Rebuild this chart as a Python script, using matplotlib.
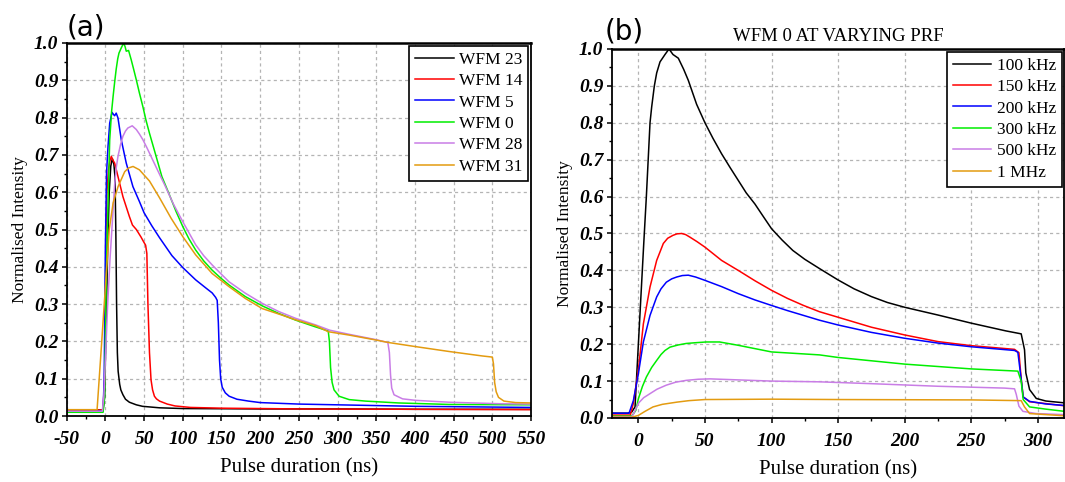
import matplotlib
matplotlib.use("Agg")
import matplotlib.pyplot as plt
from matplotlib.ticker import MultipleLocator

plt.rcParams["font.family"] = ["Liberation Serif", "DejaVu Serif"]
plt.rcParams["axes.unicode_minus"] = False

# ---- panel (a): different waveforms ----
wfm_labels = ["WFM 23", "WFM 14", "WFM 5", "WFM 0", "WFM 28", "WFM 31"]

wfm23_x = [-50, -3, -1, 1, 3, 5, 7, 9, 11, 12.5, 13.5, 14.5, 15.5, 16.5, 18.5, 20, 22.7, 26, 31, 40, 48, 70, 100, 200, 300, 400, 550]
wfm23_y = [0.016, 0.016, 0.05, 0.25, 0.45, 0.6, 0.67, 0.69, 0.675, 0.64, 0.5, 0.3, 0.17, 0.12, 0.085, 0.07, 0.057, 0.045, 0.037, 0.03, 0.026, 0.022, 0.02, 0.019, 0.019, 0.018, 0.018]

wfm14_x = [-50, -3, -1, 0, 1, 2, 4, 6, 7.7, 10, 12, 16.3, 22.7, 31, 35, 40, 46, 50, 52, 53.6, 55, 57, 59, 61, 63.4, 66, 70, 80, 90, 110, 150, 250, 400, 550]
wfm14_y = [0.016, 0.016, 0.1, 0.3, 0.5, 0.6, 0.66, 0.685, 0.696, 0.685, 0.678, 0.642, 0.588, 0.535, 0.512, 0.5, 0.48, 0.465, 0.458, 0.436, 0.30, 0.17, 0.097, 0.07, 0.053, 0.046, 0.04, 0.032, 0.027, 0.023, 0.021, 0.019, 0.018, 0.017]

wfm5_x = [-50, -3, -1.5, 0, 1.5, 3.4, 5.6, 8.6, 10.7, 12, 14, 16.3, 20.6, 27, 35.6, 44, 50, 60, 70, 86, 100, 116.7, 130, 138, 142.5, 144.5, 146, 147.5, 149, 151, 155, 160, 170, 185, 200, 250, 300, 400, 550]
wfm5_y = [0.013, 0.013, 0.1, 0.45, 0.65, 0.722, 0.785, 0.814, 0.808, 0.805, 0.812, 0.799, 0.74, 0.678, 0.615, 0.575, 0.545, 0.51, 0.478, 0.43, 0.398, 0.365, 0.343, 0.33, 0.318, 0.31, 0.25, 0.15, 0.1, 0.077, 0.062, 0.053, 0.045, 0.04, 0.036, 0.032, 0.03, 0.026, 0.023]

wfm0_x = [-50, -3, -1, 0, 1, 2.6, 5.6, 8, 10, 12, 14, 16, 17.6, 20.6, 23.6, 25.5, 27, 30, 33.4, 36.5, 40, 44, 48.4, 52.5, 57, 65.6, 73, 82, 91, 100, 108, 116.7, 127, 138, 149, 160, 181, 203, 224, 246, 270, 288, 289.5, 291, 293, 295.5, 302, 315, 336, 379, 444, 550]
wfm0_y = [0.01, 0.01, 0.05, 0.2, 0.35, 0.5, 0.74, 0.815, 0.857, 0.895, 0.93, 0.958, 0.973, 0.987, 1.0, 0.99, 0.978, 0.98, 0.955, 0.93, 0.901, 0.866, 0.83, 0.793, 0.758, 0.696, 0.642, 0.597, 0.55, 0.508, 0.475, 0.445, 0.416, 0.391, 0.37, 0.351, 0.32, 0.295, 0.275, 0.257, 0.24, 0.228, 0.2, 0.13, 0.09, 0.07, 0.053, 0.044, 0.04, 0.035, 0.031, 0.03]

wfm28_x = [-50, -4, -2, 0, 3, 6, 9, 12, 14, 16.3, 19.5, 22.7, 26, 29, 34.7, 40, 44, 48.4, 53.5, 59, 64.5, 70, 77, 88, 100, 116.7, 127, 138, 149, 159.7, 181, 202.7, 224, 245.7, 272, 290, 315, 349, 365, 367, 368.5, 370, 373, 384, 401, 444, 508, 550]
wfm28_y = [0.013, 0.013, 0.05, 0.15, 0.3, 0.42, 0.52, 0.62, 0.665, 0.696, 0.727, 0.75, 0.764, 0.772, 0.778, 0.768, 0.756, 0.741, 0.72, 0.696, 0.672, 0.648, 0.618, 0.568, 0.521, 0.459, 0.43, 0.405, 0.382, 0.36, 0.329, 0.302, 0.28, 0.262, 0.244, 0.23, 0.219, 0.205, 0.197, 0.17, 0.11, 0.075, 0.057, 0.046, 0.042, 0.037, 0.033, 0.032]

wfm31_x = [-50, -10.7, -5, 0, 5, 10, 16.4, 25, 30, 35.8, 44, 57, 70, 85, 100, 116.7, 138, 159.7, 181, 202.7, 229, 245.7, 272, 288, 315, 349, 366, 401, 444, 487, 500, 501.5, 503, 505, 508, 515, 530, 550]
wfm31_y = [0.017, 0.017, 0.19, 0.345, 0.5, 0.571, 0.615, 0.655, 0.665, 0.669, 0.66, 0.63, 0.585, 0.53, 0.481, 0.432, 0.382, 0.347, 0.315, 0.288, 0.27, 0.258, 0.242, 0.226, 0.217, 0.204, 0.197, 0.186, 0.173, 0.161, 0.158, 0.14, 0.09, 0.065, 0.05, 0.04, 0.036, 0.035]

# ---- panel (b): WFM 0 at varying PRF ----
prf_labels = ["100 kHz", "150 kHz", "200 kHz", "300 kHz", "500 kHz", "1 MHz"]

prf100_x = [-20, -8, -5, -2.5, 0, 2, 4, 6, 8.75, 10, 12, 13.75, 16.25, 20, 23, 26, 28, 30, 34, 37.5, 43.75, 50, 56, 62.5, 69, 75, 81, 87.5, 94, 100, 108, 116, 125, 136, 150, 162, 175, 187, 200, 225, 250, 276, 287.5, 290, 291, 293.8, 298.8, 306, 320]
prf100_y = [0.013, 0.013, 0.016, 0.03, 0.2, 0.335, 0.47, 0.6, 0.8, 0.843, 0.9, 0.935, 0.965, 0.985, 1.0, 0.985, 0.98, 0.975, 0.945, 0.915, 0.85, 0.80, 0.758, 0.716, 0.678, 0.644, 0.61, 0.58, 0.545, 0.513, 0.482, 0.454, 0.43, 0.405, 0.374, 0.35, 0.329, 0.313, 0.30, 0.279, 0.257, 0.236, 0.228, 0.185, 0.122, 0.077, 0.053, 0.046, 0.041]

prf150_x = [-20, -6, -3.75, 0, 3.75, 8.75, 13.75, 18.75, 22, 26, 29, 32.5, 35.5, 38.75, 44, 50, 62.5, 75, 87.5, 100, 112, 124, 136, 150, 175, 200, 225, 250, 282.5, 285.8, 287.5, 289, 293.8, 306, 320]
prf150_y = [0.008, 0.008, 0.04, 0.13, 0.255, 0.355, 0.427, 0.473, 0.487, 0.495, 0.499, 0.5, 0.497, 0.49, 0.478, 0.463, 0.427, 0.40, 0.372, 0.346, 0.324, 0.305, 0.288, 0.273, 0.246, 0.225, 0.207, 0.196, 0.186, 0.177, 0.107, 0.057, 0.044, 0.039, 0.033]

prf200_x = [-20, -7, -3.75, 0, 3.75, 8.75, 13.75, 17, 21, 25, 28.75, 33, 37.5, 43, 50, 62.5, 75, 87.5, 100, 112, 124, 136, 150, 175, 200, 225, 250, 282.5, 285, 287.5, 289, 293.8, 306, 320]
prf200_y = [0.013, 0.013, 0.047, 0.12, 0.206, 0.278, 0.328, 0.35, 0.368, 0.377, 0.382, 0.386, 0.387, 0.382, 0.373, 0.356, 0.337, 0.32, 0.305, 0.291, 0.278, 0.265, 0.252, 0.232, 0.216, 0.203, 0.193, 0.183, 0.178, 0.105, 0.057, 0.045, 0.038, 0.034]

prf300_x = [-20, -5, -2, 0, 3, 6, 10, 13.75, 17, 20, 23.75, 30, 36, 43, 51, 61, 75, 100, 136, 150, 200, 250, 285, 287.5, 289, 293.8, 306, 320]
prf300_y = [0.005, 0.005, 0.02, 0.052, 0.085, 0.111, 0.137, 0.156, 0.172, 0.183, 0.192, 0.198, 0.202, 0.204, 0.206, 0.206, 0.197, 0.179, 0.171, 0.164, 0.146, 0.133, 0.127, 0.10, 0.05, 0.03, 0.024, 0.018]

prf500_x = [-20, -5, -3.75, 0, 4, 8.75, 14, 21, 28, 36, 45, 53.75, 100, 136, 175, 225, 275, 282.5, 283.8, 285.8, 288.8, 298.8, 320]
prf500_y = [0.003, 0.003, 0.01, 0.04, 0.055, 0.066, 0.078, 0.089, 0.097, 0.102, 0.105, 0.106, 0.10, 0.098, 0.093, 0.086, 0.081, 0.079, 0.064, 0.032, 0.018, 0.012, 0.009]

prf1m_x = [-20, -5, 0, 5, 11, 18, 29, 38, 50, 100, 150, 250, 287.5, 290, 293.8, 320]
prf1m_y = [0.002, 0.002, 0.007, 0.018, 0.03, 0.037, 0.043, 0.047, 0.05, 0.051, 0.05, 0.049, 0.047, 0.03, 0.012, 0.006]

colors = ["#000000", "#ff0000", "#0000ff", "#00ee00", "#c97de6", "#e39b10"]


def style_axes(ax, xlim, xmajor, xminor):
    ax.set_xlim(*xlim)
    ax.set_ylim(0.0, 1.0)
    ax.xaxis.set_major_locator(MultipleLocator(xmajor))
    ax.xaxis.set_minor_locator(MultipleLocator(xminor))
    ax.yaxis.set_major_locator(MultipleLocator(0.1))
    ax.yaxis.set_minor_locator(MultipleLocator(0.05))
    ax.yaxis.set_major_formatter(plt.FuncFormatter(lambda v, p: f"{v:.1f}"))
    ax.grid(True, which="major", color="#b4b4b4", linestyle=(0, (2.5, 2.5)), linewidth=0.9)
    ax.tick_params(which="major", direction="out", length=3.5, width=1.1, labelsize=14)
    ax.tick_params(which="minor", direction="out", length=2.5, width=1.0)
    ax.tick_params(axis="y", which="major", pad=2.5)
    ax.tick_params(axis="x", which="major", pad=7)
    for sp in ax.spines.values():
        sp.set_linewidth(1.3)
    ax.spines["top"].set_linewidth(1.8)
    for lbl in ax.get_xticklabels() + ax.get_yticklabels():
        lbl.set_fontweight("bold")
        lbl.set_fontstyle("italic")
    ax.set_xlabel("Pulse duration (ns)", fontsize=15, labelpad=8)
    ax.set_ylabel("Normalised Intensity", fontsize=12.5, labelpad=4)


def add_legend(ax):
    leg = ax.legend(loc="upper right", fontsize=12.5, frameon=True, fancybox=False,
                    edgecolor="black", framealpha=1.0, borderaxespad=0.15,
                    handlelength=2.2, handletextpad=0.3, labelspacing=0.3,
                    borderpad=0.35)
    leg.get_frame().set_linewidth(1.2)


def main() -> None:
    fig = plt.figure(figsize=(10.65, 4.82), dpi=100)
    ax_a = fig.add_axes([0.0626, 0.1369, 0.436, 0.7739])
    ax_b = fig.add_axes([0.5744, 0.1328, 0.4251, 0.7656])

    series_a = [(wfm23_x, wfm23_y), (wfm14_x, wfm14_y), (wfm5_x, wfm5_y),
                (wfm0_x, wfm0_y), (wfm28_x, wfm28_y), (wfm31_x, wfm31_y)]
    for (xs, ys), lab, col in zip(series_a, wfm_labels, colors):
        ax_a.plot(xs, ys, color=col, lw=1.1, label=lab)
    style_axes(ax_a, (-50, 550), 50, 25)
    add_legend(ax_a)
    ax_a.text(0.0, 1.005, "(a)", transform=ax_a.transAxes, fontsize=20,
              ha="left", va="bottom", family="DejaVu Sans")

    series_b = [(prf100_x, prf100_y), (prf150_x, prf150_y), (prf200_x, prf200_y),
                (prf300_x, prf300_y), (prf500_x, prf500_y), (prf1m_x, prf1m_y)]
    for (xs, ys), lab, col in zip(series_b, prf_labels, colors):
        ax_b.plot(xs, ys, color=col, lw=1.1, label=lab)
    style_axes(ax_b, (-20, 320), 50, 25)
    add_legend(ax_b)
    ax_b.set_title("WFM 0 AT VARYING PRF", fontsize=13.5, pad=6)
    ax_b.text(-0.015, 1.01, "(b)", transform=ax_b.transAxes, fontsize=20,
              ha="left", va="bottom", family="DejaVu Sans")

    fig.savefig("out.png", dpi=100)
    plt.close(fig)


if __name__ == "__main__":
    main()
